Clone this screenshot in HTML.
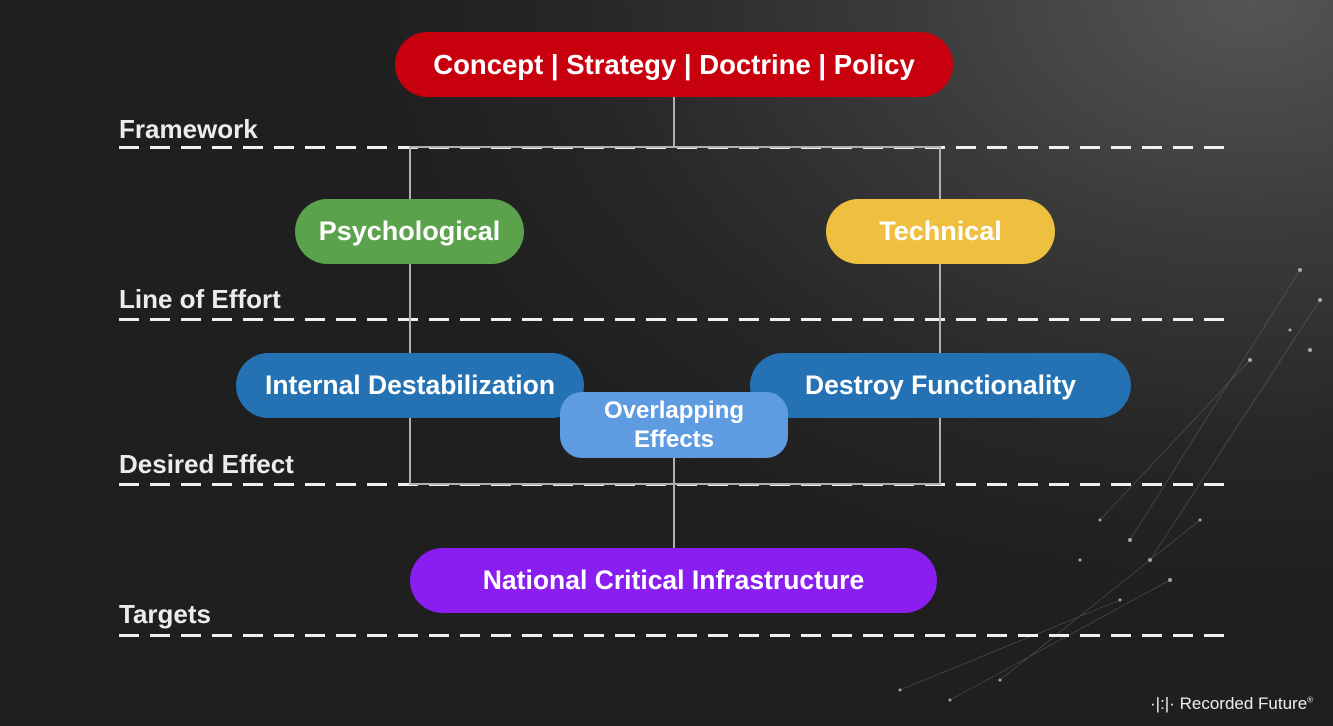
<!DOCTYPE html>
<html><head><meta charset="utf-8"><style>
html,body{margin:0;padding:0}
body{width:1333px;height:726px;overflow:hidden;position:relative;font-family:"Liberation Sans",sans-serif;
background:radial-gradient(ellipse 900px 600px at 1250px 0px,#555 0%,#3a3a3a 40%,#262626 75%,#1f1f1f 100%);}
.pill{position:absolute;border-radius:34px;color:#fff;font-weight:bold;display:flex;align-items:center;justify-content:center;text-align:center;white-space:nowrap}
.lbl{position:absolute;left:119px;color:#ececec;font-weight:bold;font-size:26px}
.v{position:absolute;width:2px;background:#b0b0b0}
.h{position:absolute;height:2px;background:#b0b0b0}
</style></head><body>
<svg width="1333" height="726" style="position:absolute;left:0;top:0" >
<g fill="#ddd" opacity="0.7">
<circle cx="1300" cy="270" r="2"/><circle cx="1320" cy="300" r="2"/><circle cx="1290" cy="330" r="1.5"/><circle cx="1250" cy="360" r="2"/><circle cx="1310" cy="350" r="2"/>
<circle cx="1130" cy="540" r="2"/><circle cx="1150" cy="560" r="2"/><circle cx="1100" cy="520" r="1.5"/><circle cx="1170" cy="580" r="2"/><circle cx="1120" cy="600" r="1.5"/><circle cx="1080" cy="560" r="1.5"/><circle cx="1200" cy="520" r="1.5"/>
<circle cx="900" cy="690" r="1.5"/><circle cx="950" cy="700" r="1.5"/><circle cx="1000" cy="680" r="1.5"/>
</g>
<g stroke="#888" stroke-width="0.6" opacity="0.5">
<line x1="1300" y1="270" x2="1130" y2="540"/><line x1="1320" y1="300" x2="1150" y2="560"/><line x1="1250" y1="360" x2="1100" y2="520"/><line x1="1170" y1="580" x2="950" y2="700"/><line x1="1120" y1="600" x2="900" y2="690"/><line x1="1200" y1="520" x2="1000" y2="680"/>
</g>
<g stroke="#f0f0f0" stroke-width="3" stroke-dasharray="20 11">
<line x1="119" y1="147.5" x2="1231" y2="147.5"/>
<line x1="119" y1="319.5" x2="1231" y2="319.5"/>
<line x1="119" y1="484.5" x2="1231" y2="484.5"/>
<line x1="119" y1="635.5" x2="1231" y2="635.5"/>
</g>
</svg>
<div class="lbl" style="top:114px">Framework</div>
<div class="lbl" style="top:284px">Line of Effort</div>
<div class="lbl" style="top:449px">Desired Effect</div>
<div class="lbl" style="top:599px">Targets</div>
<div class="v" style="left:673px;top:96px;height:52px"></div>
<div class="h" style="left:409px;top:146px;width:532px"></div>
<div class="v" style="left:409px;top:146px;height:339px"></div>
<div class="v" style="left:939px;top:146px;height:339px"></div>
<div class="h" style="left:409px;top:483px;width:532px"></div>
<div class="v" style="left:673px;top:455px;height:95px"></div>
<div class="pill" style="left:395px;top:32px;width:558px;height:65px;background:#c8000e;font-size:27.5px">Concept | Strategy | Doctrine | Policy</div>
<div class="pill" style="left:295px;top:199px;width:229px;height:65px;background:#5ba24c;font-size:27px">Psychological</div>
<div class="pill" style="left:826px;top:199px;width:229px;height:65px;background:#efbf3f;font-size:27px">Technical</div>
<div class="pill" style="left:236px;top:353px;width:348px;height:65px;background:#2472b3;font-size:26.5px">Internal Destabilization</div>
<div class="pill" style="left:750px;top:353px;width:381px;height:65px;background:#2472b3;font-size:26.5px">Destroy Functionality</div>
<div class="pill" style="left:560px;top:392px;width:228px;height:66px;border-radius:22px;background:#5f9be0;font-size:24px;line-height:29px">Overlapping<br>Effects</div>
<div class="pill" style="left:410px;top:548px;width:527px;height:65px;background:#8a1ef0;font-size:26.5px">National Critical Infrastructure</div>
<div style="position:absolute;left:1150px;top:694px;color:#eee;font-size:17px">·|:|· Recorded Future<sup style="font-size:8px">®</sup></div>
</body></html>
